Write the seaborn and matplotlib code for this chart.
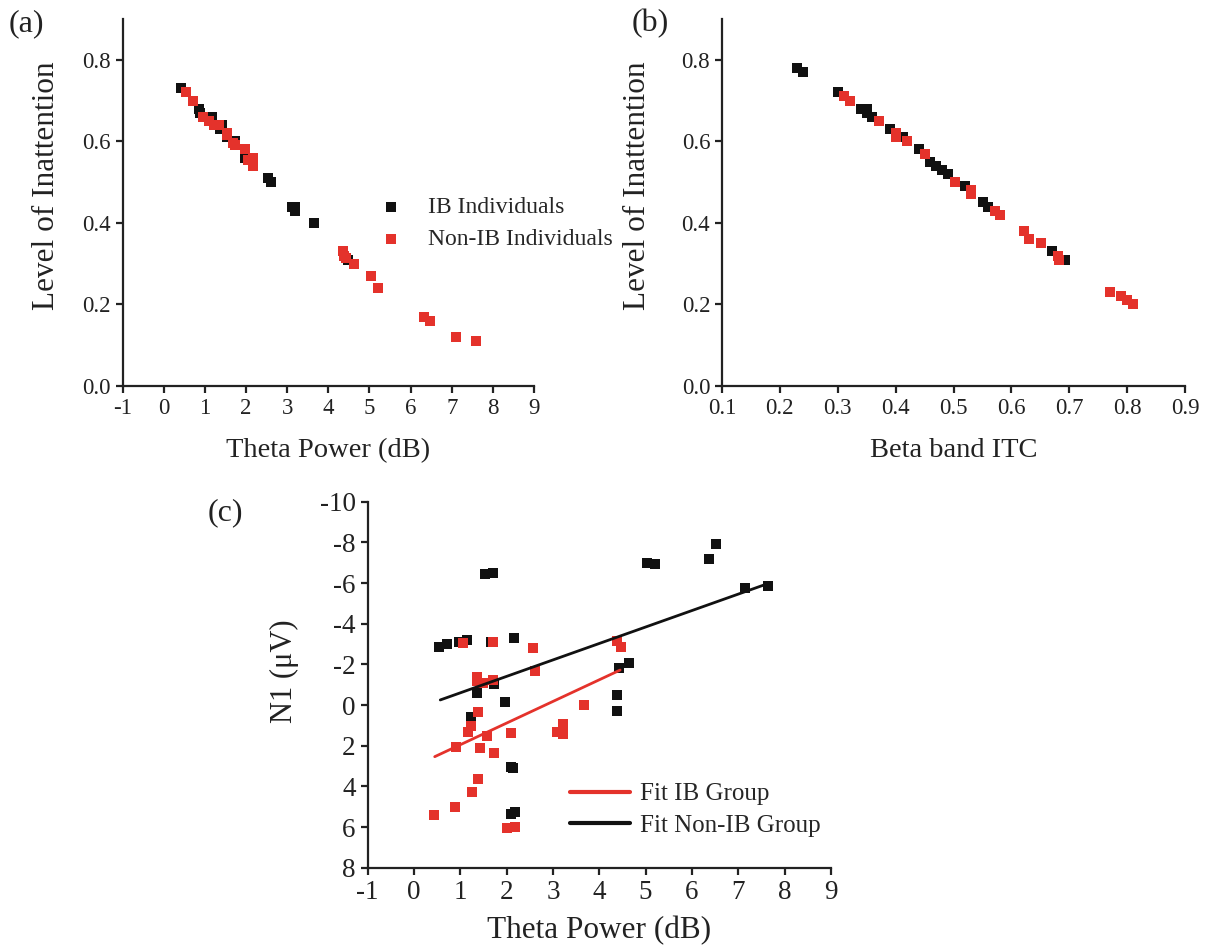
import numpy as np
import matplotlib
matplotlib.use("Agg")
import matplotlib.pyplot as plt
import seaborn as sns

# ---- panel (a): theta power vs level of inattention ----
a_ib_theta = [0.41, 0.87, 0.88, 1.17, 1.37, 1.41, 1.53, 1.73, 1.98, 2.10, 2.54, 2.60,
              3.11, 3.19, 3.19, 3.66, 4.49]
a_ib_inatt = [0.73, 0.68, 0.67, 0.66, 0.63, 0.64, 0.61, 0.60, 0.56, 0.56, 0.51, 0.50,
              0.44, 0.44, 0.43, 0.40, 0.31]
a_non_theta = [0.55, 0.72, 0.96, 1.11, 1.23, 1.35, 1.53, 1.55, 1.68, 1.73, 1.98, 2.04,
               2.16, 2.18, 4.37, 4.38, 4.42, 4.63, 5.03, 5.20, 6.33, 6.47, 7.10, 7.59]
a_non_inatt = [0.72, 0.70, 0.66, 0.65, 0.64, 0.64, 0.62, 0.615, 0.595, 0.59, 0.58, 0.555,
               0.56, 0.54, 0.33, 0.32, 0.313, 0.30, 0.27, 0.24, 0.17, 0.16, 0.12, 0.11]

# ---- panel (b): beta band ITC vs level of inattention ----
b_ib_itc = [0.230, 0.240, 0.301, 0.341, 0.350, 0.350, 0.360, 0.391, 0.412, 0.441, 0.460,
            0.470, 0.480, 0.491, 0.520, 0.551, 0.560, 0.671, 0.692]
b_ib_inatt = [0.78, 0.77, 0.72, 0.68, 0.68, 0.67, 0.66, 0.63, 0.61, 0.58, 0.55,
              0.54, 0.53, 0.52, 0.49, 0.45, 0.44, 0.33, 0.31]
b_non_itc = [0.311, 0.321, 0.371, 0.400, 0.400, 0.420, 0.450, 0.502, 0.531, 0.531, 0.571,
             0.580, 0.622, 0.630, 0.651, 0.681, 0.682, 0.771, 0.790, 0.800, 0.811]
b_non_inatt = [0.71, 0.70, 0.65, 0.62, 0.61, 0.60, 0.57, 0.50, 0.48, 0.47, 0.43,
               0.42, 0.38, 0.36, 0.35, 0.32, 0.31, 0.23, 0.22, 0.21, 0.20]

# ---- panel (c): theta power vs N1 amplitude ----
c_blk_theta = [0.55, 0.72, 0.98, 1.14, 1.67, 2.16, 1.54, 1.70, 1.74, 1.36, 1.24, 1.97,
               2.10, 2.13, 2.10, 2.19, 4.42, 4.65, 4.38, 4.38, 5.04, 5.21, 6.36, 6.52,
               7.14, 7.64]
c_blk_n1 = [-2.87, -3.00, -3.11, -3.20, -3.08, -3.28, -6.44, -6.48, -1.03, -0.60, 0.58,
            -0.16, 3.06, 3.10, 5.36, 5.25, -1.80, -2.08, -0.48, 0.29, -6.97, -6.94,
            -7.20, -7.90, -5.77, -5.85]
c_red_theta = [0.44, 0.89, 0.90, 1.07, 1.25, 1.39, 1.43, 1.16, 1.24, 1.38, 1.37, 1.37,
               1.49, 1.57, 1.70, 1.70, 1.74, 2.10, 2.00, 2.19, 2.57, 2.61, 3.09, 3.21,
               3.21, 3.68, 4.38, 4.47]
c_red_n1 = [5.41, 5.03, 2.05, -3.04, 4.29, 3.64, 2.13, 1.31, 1.03, 0.33, -1.39, -1.20,
            -1.10, 1.52, -1.23, -3.11, 2.38, 1.36, 6.03, 5.99, -2.79, -1.69, 1.31, 0.93,
            1.41, 0.00, -3.16, -2.87]
fit_ib_theta = [0.45, 4.45]
fit_ib_n1 = [2.54, -1.72]
fit_non_theta = [0.57, 7.61]
fit_non_n1 = [-0.25, -5.95]

RED = "#e4322b"
BLACK = "#111111"
INK = "#222222"

sns.set_style("ticks")
plt.rcParams["font.family"] = ["Liberation Serif", "DejaVu Serif"]
plt.rcParams["axes.unicode_minus"] = False
plt.rcParams["axes.linewidth"] = 1.6
plt.rcParams["xtick.major.width"] = 1.6
plt.rcParams["ytick.major.width"] = 1.6
plt.rcParams["xtick.major.size"] = 5
plt.rcParams["ytick.major.size"] = 5
plt.rcParams["xtick.color"] = INK
plt.rcParams["ytick.color"] = INK
plt.rcParams["axes.edgecolor"] = INK

W, H = 1208, 947
fig = plt.figure(figsize=(W / 100, H / 100), dpi=100)


def box(left, right, top, bottom):
    return [left / W, 1 - bottom / H, (right - left) / W, (bottom - top) / H]


ax_a = fig.add_axes(box(122.5, 534, 19, 386))
ax_b = fig.add_axes(box(722, 1185, 19, 386))
ax_c = fig.add_axes(box(367.5, 831, 501.7, 867.7))

mk = dict(marker="s", s=55, linewidth=0)

# (a)
sns.scatterplot(x=a_ib_theta, y=a_ib_inatt, color=BLACK, ax=ax_a,
                label="IB Individuals", **mk)
sns.scatterplot(x=a_non_theta, y=a_non_inatt, color=RED, ax=ax_a,
                label="Non-IB Individuals", **mk)
ax_a.set_xlim(-1, 9)
ax_a.set_ylim(0, 0.9)
ax_a.set_xticks(range(-1, 10))
ax_a.set_yticks([0.0, 0.2, 0.4, 0.6, 0.8])
ax_a.set_yticklabels(["0.0", "0.2", "0.4", "0.6", "0.8"])
ax_a.set_xlabel("Theta Power (dB)", fontsize=20.5)
ax_a.set_ylabel("Level of Inattention", fontsize=22.5)
ax_a.xaxis.set_label_coords(0.5, -0.142)
ax_a.yaxis.set_label_coords(-0.15, 0.546)
ax_a.legend(loc="upper left", bbox_to_anchor=(0.594, 0.516), frameon=False,
            fontsize=17, borderpad=0, borderaxespad=0, handletextpad=0.6,
            labelspacing=0.45, markerscale=1.0)

# (b)
sns.scatterplot(x=b_ib_itc, y=b_ib_inatt, color=BLACK, ax=ax_b, legend=False, **mk)
sns.scatterplot(x=b_non_itc, y=b_non_inatt, color=RED, ax=ax_b, legend=False, **mk)
ax_b.set_xlim(0.1, 0.9)
ax_b.set_ylim(0, 0.9)
ax_b.set_xticks(np.arange(0.1, 0.95, 0.1))
ax_b.set_xticklabels([f"{v:.1f}" for v in np.arange(0.1, 0.95, 0.1)])
ax_b.set_yticks([0.0, 0.2, 0.4, 0.6, 0.8])
ax_b.set_yticklabels(["0.0", "0.2", "0.4", "0.6", "0.8"])
ax_b.set_xlabel("Beta band ITC", fontsize=20.5)
ax_b.set_ylabel("Level of Inattention", fontsize=22.5)
ax_b.xaxis.set_label_coords(0.5, -0.142)
ax_b.yaxis.set_label_coords(-0.151, 0.546)

# (c)
sns.scatterplot(x=c_blk_theta, y=c_blk_n1, color=BLACK, ax=ax_c, legend=False, **mk)
sns.scatterplot(x=c_red_theta, y=c_red_n1, color=RED, ax=ax_c, legend=False, **mk)
sns.lineplot(x=fit_ib_theta, y=fit_ib_n1, color=RED, linewidth=2, ax=ax_c,
             label="Fit IB Group")
sns.lineplot(x=fit_non_theta, y=fit_non_n1, color=BLACK, linewidth=2, ax=ax_c,
             label="Fit Non-IB Group")
ax_c.set_xlim(-1, 9)
ax_c.set_ylim(8, -10)
ax_c.set_xticks(range(-1, 10))
ax_c.set_yticks(range(-10, 9, 2))
ax_c.set_xlabel("Theta Power (dB)", fontsize=22.5)
ax_c.set_ylabel("N1 (μV)", fontsize=22)
ax_c.xaxis.set_label_coords(0.5, -0.133)
ax_c.yaxis.set_label_coords(-0.148, 0.538)
leg = ax_c.legend(loc="upper left", bbox_to_anchor=(0.437, 0.232), frameon=False,
                  fontsize=18, borderpad=0, borderaxespad=0, handlelength=2.4,
                  handletextpad=0.4, labelspacing=0.37)
for ln in leg.get_lines():
    ln.set_linewidth(3)

for ax, fs in ((ax_a, 16.5), (ax_b, 16.5), (ax_c, 19.5)):
    sns.despine(ax=ax)
    ax.tick_params(labelsize=fs, direction="out")
    ax.xaxis.label.set_color(INK)
    ax.yaxis.label.set_color(INK)

fig.text(9 / W, 1 - 9 / H, "(a)", fontsize=23, va="top", ha="left", color=INK)
fig.text(632 / W, 1 - 9 / H, "(b)", fontsize=23, va="top", ha="left", color=INK)
fig.text(208 / W, 1 - 498 / H, "(c)", fontsize=23, va="top", ha="left", color=INK)

fig.savefig("out.png", dpi=100)
